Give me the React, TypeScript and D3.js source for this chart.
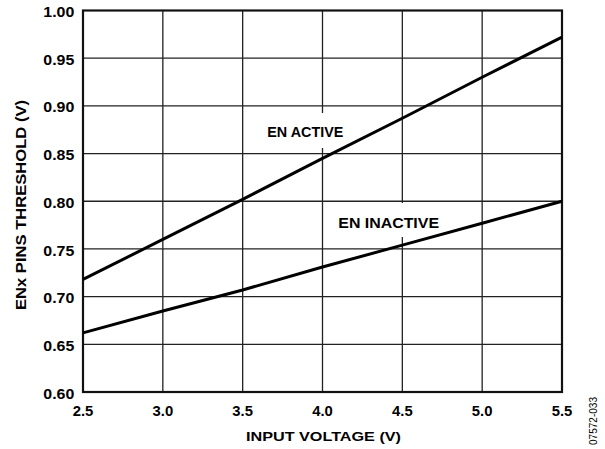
import React from "react";
import * as d3 from "d3";

const voltages = [2.5, 3.0, 3.5, 4.0, 4.5, 5.0, 5.5];
const enActive = [0.718, 0.760, 0.802, 0.845, 0.887, 0.930, 0.972];
const enInactive = [0.662, 0.685, 0.707, 0.731, 0.754, 0.777, 0.800];
const xTicks = [2.5, 3.0, 3.5, 4.0, 4.5, 5.0, 5.5];
const yTicks = [0.6, 0.65, 0.7, 0.75, 0.8, 0.85, 0.9, 0.95, 1.0];

const W = 605, H = 449;
const L = 83, R = 562, T = 10.5, B = 392;

export default function App() {
  const x = d3.scaleLinear().domain([2.5, 5.5]).range([L, R]);
  const y = d3.scaleLinear().domain([0.6, 1.0]).range([B, T]);
  const line = d3.line<number>().x((_, i) => x(voltages[i])).y((d) => y(d));
  const font = "'Liberation Sans', Arial, sans-serif";
  return (
    <svg width={W} height={H} style={{ position: "absolute", left: 0, top: 0 }} fontFamily={font}>
      <rect width={W} height={H} fill="#fff" />
      {xTicks.slice(1, -1).map((t) => (
        <line key={"gx" + t} x1={x(t)} x2={x(t)} y1={T} y2={B} stroke="#222" strokeWidth={1.3} />
      ))}
      {yTicks.slice(1, -1).map((t) => (
        <line key={"gy" + t} x1={L} x2={R} y1={y(t)} y2={y(t)} stroke="#222" strokeWidth={1.3} />
      ))}
      <rect x={262} y={113} width={90} height={35} fill="#fff" />
      <rect x={333} y={203} width={112} height={34} fill="#fff" />
      <rect x={L} y={T} width={R - L} height={B - T} fill="none" stroke="#111" strokeWidth={2.2} />
      <path d={line(enActive) || ""} fill="none" stroke="#000" strokeWidth={3} />
      <path d={line(enInactive) || ""} fill="none" stroke="#000" strokeWidth={3} />
      <text x={267.3} y={137.3} fontSize={14} fontWeight="bold" textLength={76} lengthAdjust="spacingAndGlyphs">EN ACTIVE</text>
      <text x={338.3} y={228.3} fontSize={14} fontWeight="bold" textLength={100.7} lengthAdjust="spacingAndGlyphs">EN INACTIVE</text>
      {yTicks.map((t) => (
        <text key={"ty" + t} x={74.3} y={y(t) + 6.6} textAnchor="end" fontSize={14} fontWeight="bold" textLength={31} lengthAdjust="spacingAndGlyphs">
          {t.toFixed(2)}
        </text>
      ))}
      {xTicks.map((t) => (
        <text key={"tx" + t} x={x(t) - 10.3} y={416} fontSize={14} fontWeight="bold" textLength={20.6} lengthAdjust="spacingAndGlyphs">
          {t.toFixed(1)}
        </text>
      ))}
      <text x={246} y={440.7} fontSize={13} fontWeight="bold" textLength={155} lengthAdjust="spacingAndGlyphs">INPUT VOLTAGE (V)</text>
      <text transform={`translate(25.5,310) rotate(-90)`} fontSize={14} fontWeight="bold" textLength={210} lengthAdjust="spacingAndGlyphs">
        ENx PINS THRESHOLD (V)
      </text>
      <text transform="translate(597,445) rotate(-90)" fontSize={10} textLength={48} lengthAdjust="spacingAndGlyphs">07572-033</text>
    </svg>
  );
}
